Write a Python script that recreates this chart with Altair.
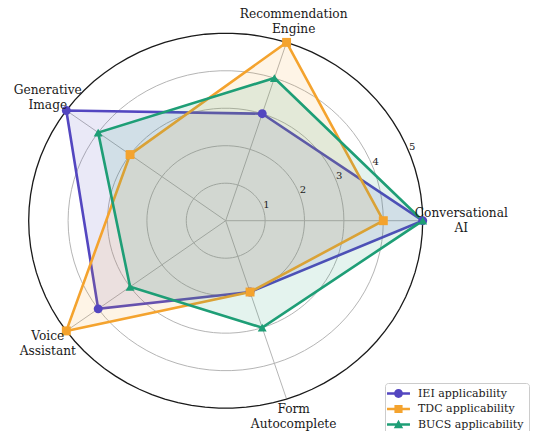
import altair as alt
import pandas as pd

# ---------------- data ----------------
categories = ["Conversational AI", "Recommendation Engine", "Generative Image",
              "Voice Assistant", "Form Autocomplete"]
category_labels = ["Conversational\nAI", "Recommendation\nEngine", "Generative\nImage",
                   "Voice\nAssistant", "Form\nAutocomplete"]
series_names = ["IEI applicability", "TDC applicability", "BUCS applicability"]
iei_values = [5, 3, 5, 4, 2]
tdc_values = [4, 5, 3, 5, 2]
bucs_values = [5, 4, 4, 3, 3]
ring_values = [1, 2, 3, 4, 5]
tick_labels = ["1", "2", "3", "4", "5"]

colors = ["#5346C0", "#F4A32E", "#1E9E76"]
marker_shapes = ["circle", "square", "triangle-up"]
legend_paths = [
    "M-2.2,-0.25H2.2V0.25H-2.2Z M0.85,0A0.85,0.85,0,1,1,-0.85,0A0.85,0.85,0,1,1,0.85,0Z",
    "M-2.2,-0.25H2.2V0.25H-2.2Z M-0.78,-0.78H0.78V0.78H-0.78Z",
    "M-2.2,-0.25H2.2V0.25H-2.2Z M0,-0.9L0.9,0.7H-0.9Z",
]

SERIF = "DejaVu Serif"
N = len(categories)

# ---------------- tables ----------------
rows = []
for s, vals in zip(series_names, [iei_values, tdc_values, bucs_values]):
    for i, (c, v) in enumerate(zip(categories, vals)):
        rows.append({"series": s, "category": c, "idx": i, "value": v})
values_df = pd.DataFrame(rows)

cat_df = pd.DataFrame({"category": categories, "label": category_labels,
                       "idx": list(range(N))})
ring_df = pd.DataFrame([{"ring": r, "k": k} for r in ring_values for k in range(91)])
tick_df = pd.DataFrame({"ring": ring_values, "text": tick_labels})

theta_expr = f"datum.idx * 2 * PI / {N}"

xs = alt.Scale(domain=[-5.525, 7.850], nice=False, zero=False)
ys = alt.Scale(domain=[-5.608, 5.672], nice=False, zero=False)
X = lambda f: alt.X(f, type="quantitative", scale=xs, axis=None)
Y = lambda f: alt.Y(f, type="quantitative", scale=ys, axis=None)

color_scale = alt.Scale(domain=series_names, range=colors)

# ---------------- grid ----------------
rings = alt.Chart(ring_df).transform_calculate(
    ang="datum.k * 4 * PI / 180",
    x="datum.ring * cos(datum.ang)",
    y="datum.ring * sin(datum.ang)",
)
inner_rings = rings.transform_filter("datum.ring < 5").mark_line(
    color="#b5b5b5", strokeWidth=1.0
).encode(x=X("x"), y=Y("y"), detail="ring:N", order="k:Q")
outer_ring = rings.transform_filter("datum.ring == 5").mark_line(
    color="#1a1a1a", strokeWidth=1.3
).encode(x=X("x"), y=Y("y"), detail="ring:N", order="k:Q")

spokes = alt.Chart(cat_df).transform_calculate(
    th=theta_expr,
    x0="0", y0="0",
    xe="5 * cos(datum.th)", ye="5 * sin(datum.th)",
).mark_rule(color="#b5b5b5", strokeWidth=1.0).encode(
    x=X("x0"), y=Y("y0"), x2="xe:Q", y2="ye:Q"
)

cat_text = alt.Chart(cat_df).transform_calculate(
    th=theta_expr,
    lr="5.58 + 0.4 * pow(max(0, cos(datum.th)), 6)",
    x="datum.lr * cos(datum.th)",
    y="datum.lr * sin(datum.th) + (sin(datum.th) < -0.9 ? 0.08 : 0)",
).mark_text(font=SERIF, fontSize=12.2, lineHeight=15, lineBreak="\n",
            align="center", baseline="middle", dy=-7.5, color="#1a1a1a").encode(
    x=X("x"), y=Y("y"), text="label:N"
)

ticks = alt.Chart(tick_df).transform_calculate(
    x="(datum.ring + 0.12) * cos(PI / 8)",
    y="(datum.ring + 0.12) * sin(PI / 8)",
).mark_text(font=SERIF, fontSize=10, align="center", baseline="middle",
            color="#222222").encode(x=X("x"), y=Y("y"), text="text:N")

# ---------------- data layers ----------------
base = alt.Chart(values_df).transform_calculate(
    th=theta_expr,
    x="datum.value * cos(datum.th)",
    y="datum.value * sin(datum.th)",
)

polys = base.mark_line(interpolate="linear-closed", strokeWidth=2.6,
                       fillOpacity=0.12).encode(
    x=X("x"), y=Y("y"),
    color=alt.Color("series:N", scale=color_scale, legend=None),
    fill=alt.Fill("series:N", scale=color_scale, legend=None),
    detail="series:N",
    order="idx:Q",
)

point_layers = []
for s, shp in zip(series_names, marker_shapes):
    point_layers.append(
        base.transform_filter(alt.datum.series == s).mark_point(
            shape=shp, filled=True, size=80, opacity=1
        ).encode(
            x=X("x"), y=Y("y"),
            color=alt.Color("series:N", scale=color_scale, legend=None),
        )
    )

legend_cfg = dict(
    title=None, orient="none", legendX=377, legendY=375,
    fillColor="rgba(255,255,255,0.85)", strokeColor="#cccccc", cornerRadius=3,
    padding=5, labelFont=SERIF, labelFontSize=11, labelColor="#1a1a1a",
    symbolSize=109, symbolStrokeWidth=0, symbolOffset=3, labelOffset=14,
    rowPadding=3.5, symbolOpacity=1,
)
legend_layer = base.mark_point(filled=True, opacity=0, size=109).encode(
    x=X("x"), y=Y("y"),
    color=alt.Color("series:N", scale=color_scale, legend=alt.Legend(**legend_cfg)),
    shape=alt.Shape("series:N", scale=alt.Scale(domain=series_names, range=legend_paths),
                    legend=alt.Legend(**legend_cfg)),
)

chart = alt.layer(
    inner_rings, spokes, polys, outer_ring, *point_layers, ticks, cat_text, legend_layer
).resolve_scale(
    color="independent", fill="independent", shape="independent"
).properties(
    width=527, height=423,
    autosize=alt.AutoSizeParams(type="none"),
    padding=0,
).configure(
    font=SERIF, style={"guide-label": {"font": SERIF}}
).configure_view(stroke=None).configure_legend(
    labelFont=SERIF, labelFontSize=11, labelColor="#1a1a1a"
)

chart.save("out.html", embed_options={"renderer": "svg", "actions": False})
